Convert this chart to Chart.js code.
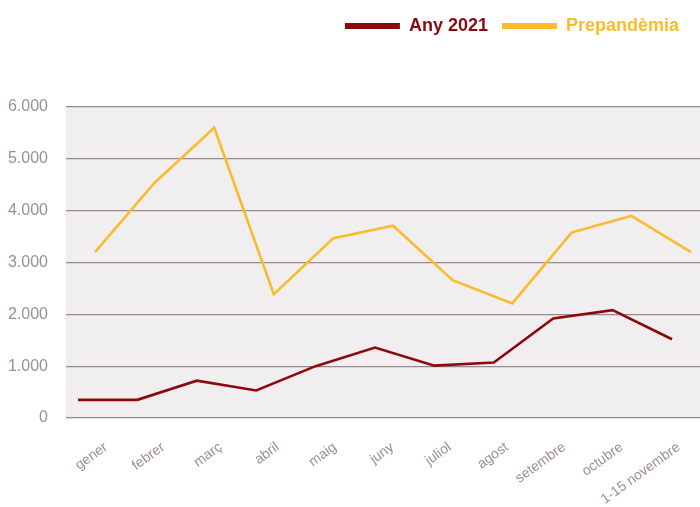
<!DOCTYPE html>
<html><head><meta charset="utf-8">
<script src="https://cdn.jsdelivr.net/npm/chart.js@4"></script>
<style>html,body{margin:0;padding:0;background:#fff;}#wrap{width:700px;height:507px;}</style>
</head><body><div id="wrap"><canvas id="c" width="700" height="507"></canvas></div>
<script>
const categories = ['gener','febrer','març','abril','maig','juny','juliol','agost','setembre','octubre','1-15 novembre'];
const any2021 = [350, 350, 720, 530, 1000, 1360, 1010, 1070, 1920, 2080, 1520];
const prepandemia = [3200, 4540, 5600, 2390, 3470, 3710, 2660, 2210, 3580, 3900, 3200];
const yTicks = [0, 1000, 2000, 3000, 4000, 5000, 6000];

const RED = '#8b0a0e', YEL = '#fbbc2b', TICK = '#9d8e94', GRID = '#978990';
const fmt = v => String(v).replace(/\B(?=(\d{3})+(?!\d))/g, '.');

const bgPlugin = {
  id: 'bg',
  afterInit(chart) {
    const lg = chart.legend; const f = lg.fit;
    lg.fit = function () { f.call(this); this.height = 104; if (this.lineWidths) this.lineWidths[0] += 7; };
  },
  beforeDraw(chart) {
    const a = chart.chartArea, ctx = chart.ctx;
    ctx.save(); ctx.fillStyle = '#f1eeef';
    ctx.fillRect(a.left, a.top, a.right - a.left, a.bottom - a.top);
    ctx.restore();
  }
};

new Chart(document.getElementById('c'), {
  type: 'line',
  data: {
    datasets: [
      { label: 'Any 2021', data: any2021.map((v, i) => ({x: i, y: v})), xAxisID: 'xa',
        borderColor: RED, backgroundColor: RED, borderWidth: 2.6, pointRadius: 0, tension: 0 },
      { label: 'Prepandèmia', data: prepandemia.map((v, i) => ({x: i, y: v})), xAxisID: 'xp',
        borderColor: YEL, backgroundColor: YEL, borderWidth: 2.6, pointRadius: 0, tension: 0 }
    ]
  },
  options: {
    responsive: false, animation: false,
    layout: { padding: { top: 3, left: 0, right: 0, bottom: 0 } },
    plugins: {
      tooltip: { enabled: false },
      legend: {
        position: 'top', align: 'end',
        labels: { boxWidth: 55, boxHeight: 6, padding: 14,
          font: { family: 'Liberation Sans, Arial, sans-serif', size: 18, weight: 'bold' },
          generateLabels: chart => chart.data.datasets.map((d, i) => ({
            text: d.label, fillStyle: d.borderColor, strokeStyle: d.borderColor, lineWidth: 0,
            fontColor: d.borderColor, datasetIndex: i, hidden: false }))
        }
      }
    },
    scales: {
      x: {
        type: 'linear', position: 'bottom', min: -0.698, max: 10.37,
        afterFit(s) { s.height = 89; s.paddingLeft = 0; s.paddingRight = 0; },
        afterBuildTicks(s) { s.ticks = categories.map((c, i) => ({value: i})); },
        grid: { display: false, drawTicks: false }, border: { display: false },
        ticks: { autoSkip: false, minRotation: 36, maxRotation: 36, padding: 21, color: TICK,
          font: { family: 'Liberation Sans, Arial, sans-serif', size: 14 },
          callback: v => categories[v] }
      },
      xa: { type: 'linear', display: false, min: -0.202, max: 10.471 },
      xp: { type: 'linear', display: false, min: -0.487, max: 10.151 },
      y: {
        min: 0, max: 6000,
        afterFit(s) { s.width = 66; },
        afterBuildTicks(s) { s.ticks = yTicks.map(v => ({value: v})); },
        grid: { color: GRID, lineWidth: 1.3, drawTicks: false }, border: { display: false },
        ticks: { padding: 18, color: TICK, font: { family: 'Liberation Sans, Arial, sans-serif', size: 16 },
          callback: v => fmt(v) }
      }
    }
  },
  plugins: [bgPlugin]
});
</script></body></html>
